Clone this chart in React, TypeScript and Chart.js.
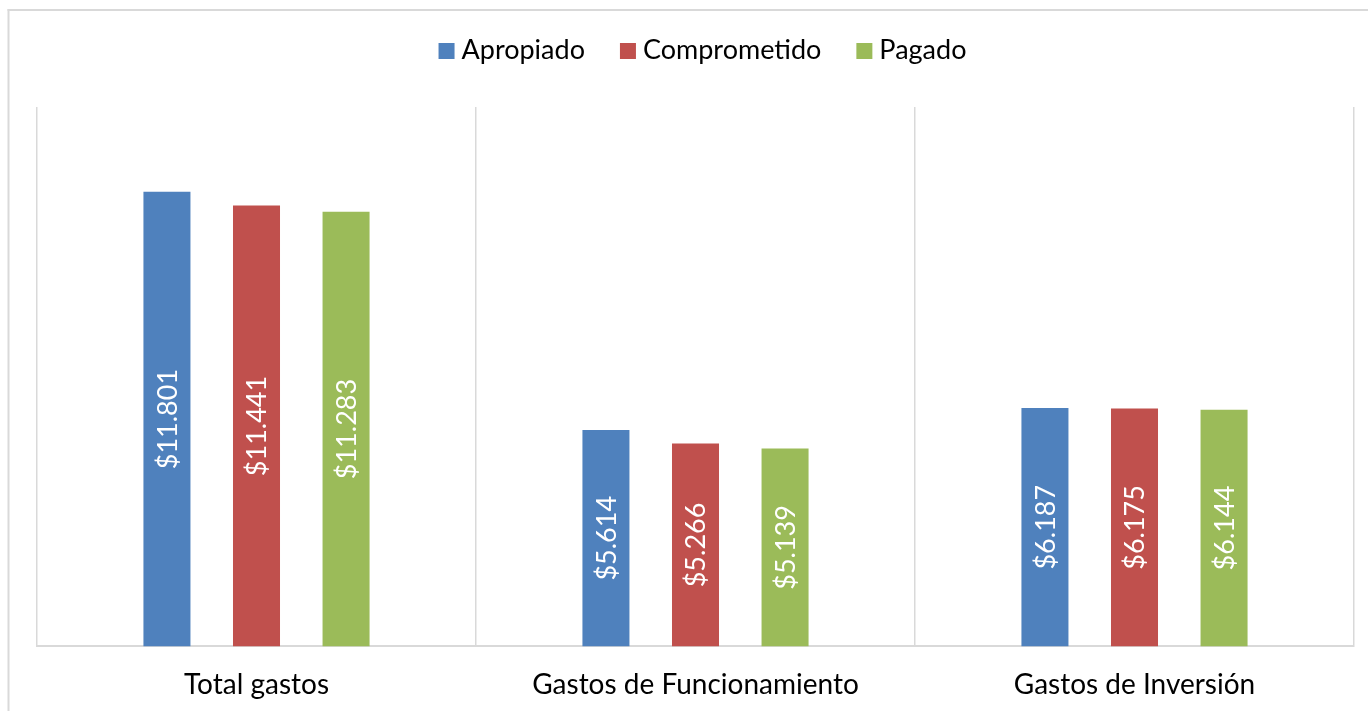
import React, { useEffect, useRef } from "react";
import { Chart, registerables } from "chart.js";

Chart.register(...registerables);

const categories = ["Total gastos", "Gastos de Funcionamiento", "Gastos de Inversión"];
const seriesNames = ["Apropiado", "Comprometido", "Pagado"];
const apropiado = [11801, 5614, 6187];
const comprometido = [11441, 5266, 6175];
const pagado = [11283, 5139, 6144];
const seriesColors = ["#4F81BD", "#C0504D", "#9BBB59"];
const yMin = 0;
const yMax = 14000;

const FONT = "Lato";
const LABEL_SIZE = 27;
const AXIS_SIZE = 28;

function fmt(v: number): string {
  const s = String(Math.round(v));
  return "$" + s.replace(/\B(?=(\d{3})+(?!\d))/g, ".");
}

const framePlugin = {
  id: "frame",
  beforeDraw(chart: any) {
    const ctx = chart.ctx;
    ctx.save();
    ctx.fillStyle = "#ffffff";
    ctx.fillRect(0, 0, chart.width, chart.height);
    ctx.fillStyle = "#d9d9d9";
    ctx.fillRect(7.5, 9, 2, chart.height);
    ctx.fillRect(7.5, 9, chart.width, 2);
    ctx.restore();
  },
};

const barLabelPlugin = {
  id: "barLabels",
  afterDatasetsDraw(chart: any) {
    const ctx = chart.ctx;
    ctx.save();
    ctx.fillStyle = "#ffffff";
    ctx.font = `${LABEL_SIZE}px ${FONT}`;
    ctx.textAlign = "center";
    ctx.textBaseline = "middle";
    chart.data.datasets.forEach((ds: any, di: number) => {
      const meta = chart.getDatasetMeta(di);
      meta.data.forEach((bar: any, i: number) => {
        const p = bar.getProps(["x", "y", "base"], true);
        ctx.save();
        ctx.translate(p.x + 1, (p.y + p.base) / 2);
        ctx.rotate(-Math.PI / 2);
        ctx.fillText(fmt(ds.data[i]), 0, 0);
        ctx.restore();
      });
    });
    ctx.restore();
  },
};

const legendPlugin = {
  id: "customLegend",
  afterDraw(chart: any) {
    const ctx = chart.ctx;
    ctx.save();
    ctx.font = `${LABEL_SIZE}px ${FONT}`;
    ctx.textBaseline = "alphabetic";
    ctx.textAlign = "left";
    const box = 16;
    const boxGap = 7;
    const itemGap = 35;
    const items = chart.data.datasets.map((ds: any) => ({
      label: ds.label,
      color: ds.backgroundColor,
      w: ctx.measureText(ds.label).width,
    }));
    const total =
      items.reduce((a: number, it: any) => a + box + boxGap + it.w, 0) +
      itemGap * (items.length - 1);
    const ca = chart.chartArea;
    let x = (ca.left + ca.right) / 2 + 7 - total / 2;
    const baseline = 59;
    items.forEach((it: any) => {
      ctx.fillStyle = it.color;
      ctx.fillRect(x, 43, box, box);
      x += box + boxGap;
      ctx.fillStyle = "#000000";
      ctx.fillText(it.label, x, baseline);
      x += it.w + itemGap;
    });
    ctx.restore();
  },
};

export default function App() {
  const canvasRef = useRef<HTMLCanvasElement | null>(null);

  useEffect(() => {
    const canvas = canvasRef.current;
    if (!canvas) return;
    const seriesData = [apropiado, comprometido, pagado];
    const chart = new Chart(canvas, {
      type: "bar",
      data: {
        labels: categories,
        datasets: seriesNames.map((name, i) => ({
          label: name,
          data: seriesData[i],
          backgroundColor: seriesColors[i],
          borderWidth: 0,
          categoryPercentage: 0.612,
          barPercentage: 0.525,
        })),
      },
      options: {
        responsive: false,
        animation: false,
        devicePixelRatio: 1,
        layout: { padding: { left: 37, right: 14, top: 107, bottom: -13 } },
        plugins: {
          legend: { display: false },
          tooltip: { enabled: false },
        },
        scales: {
          x: {
            grid: {
              color: "#d9d9d9",
              lineWidth: 1.5,
              drawTicks: false,
              offset: true,
            },
            border: { display: true, color: "#d9d9d9", width: 2 },
            ticks: {
              color: "#000000",
              font: { family: FONT, size: AXIS_SIZE },
              padding: 22,
              maxRotation: 0,
              autoSkip: false,
            },
          },
          y: {
            display: false,
            min: yMin,
            max: yMax,
          },
        },
      },
      plugins: [framePlugin, barLabelPlugin, legendPlugin],
    });
    return () => chart.destroy();
  }, []);

  return (
    <div style={{ position: "fixed", left: 0, top: 0, width: 1368, height: 711, background: "#fff" }}>
      <canvas ref={canvasRef} width={1368} height={711} style={{ display: "block" }} />
    </div>
  );
}
